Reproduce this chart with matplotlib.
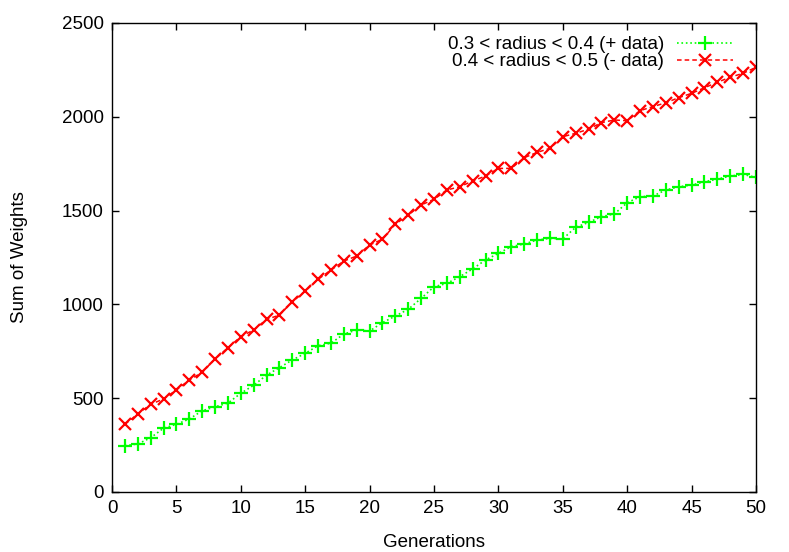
import matplotlib
matplotlib.use("Agg")
import matplotlib.pyplot as plt

plt.rcParams['font.family'] = ['Liberation Sans', 'DejaVu Sans']

generations = list(range(1, 51))

# 0.3 < radius < 0.4 (+ data)
plus_data = [247, 256, 289, 340, 361, 389, 433, 454, 474, 526,
             569, 623, 663, 704, 739, 780, 793, 842, 864, 858,
             903, 938, 974, 1032, 1094, 1112, 1148, 1189, 1237, 1272,
             1308, 1322, 1343, 1352, 1349, 1411, 1437, 1468, 1482, 1542,
             1574, 1578, 1610, 1627, 1636, 1654, 1668, 1684, 1693, 1677]

# 0.4 < radius < 0.5 (- data)
minus_data = [361, 416, 467, 496, 544, 597, 638, 709, 769, 828,
              864, 920, 943, 1014, 1071, 1134, 1183, 1231, 1258, 1317,
              1347, 1428, 1476, 1530, 1560, 1610, 1627, 1658, 1684, 1725,
              1725, 1782, 1810, 1832, 1894, 1912, 1934, 1969, 1983, 1979,
              2033, 2054, 2075, 2102, 2125, 2155, 2184, 2211, 2232, 2264]

fig = plt.figure(figsize=(7.89, 5.52), dpi=100)
ax = fig.add_axes([112/789, 1 - 492/552, (756-112)/789, (492-23)/552])

ax.plot(generations, plus_data, color='#00ff00', linestyle=':', linewidth=1.2,
        marker='+', markersize=10, markeredgewidth=1.6,
        label='0.3 < radius < 0.4 (+ data)')
ax.plot(generations, minus_data, color='#ff0000', linestyle='--', linewidth=1.1,
        dashes=(3, 2), marker='x', markersize=9, markeredgewidth=1.6,
        label='0.4 < radius < 0.5 (- data)')

ax.set_xlim(0, 50)
ax.set_ylim(0, 2500)
ax.set_xticks(range(0, 51, 5))
ax.set_yticks(range(0, 2501, 500))
ax.tick_params(direction='in', top=True, right=True, length=5, width=1,
               labelsize=13.5, pad=6)
for s in ax.spines.values():
    s.set_linewidth(1)

ax.set_xlabel('Generations', fontsize=13.5, labelpad=12)
ax.set_ylabel('Sum of Weights', fontsize=13.5, labelpad=24)

leg = ax.legend(loc='upper right', frameon=False, markerfirst=False,
                fontsize=13.5, handlelength=3.0, handletextpad=0.7,
                labelspacing=0.0, borderaxespad=0.3,
                bbox_to_anchor=(0.985, 1.0))

fig.savefig('out.png', dpi=100)
